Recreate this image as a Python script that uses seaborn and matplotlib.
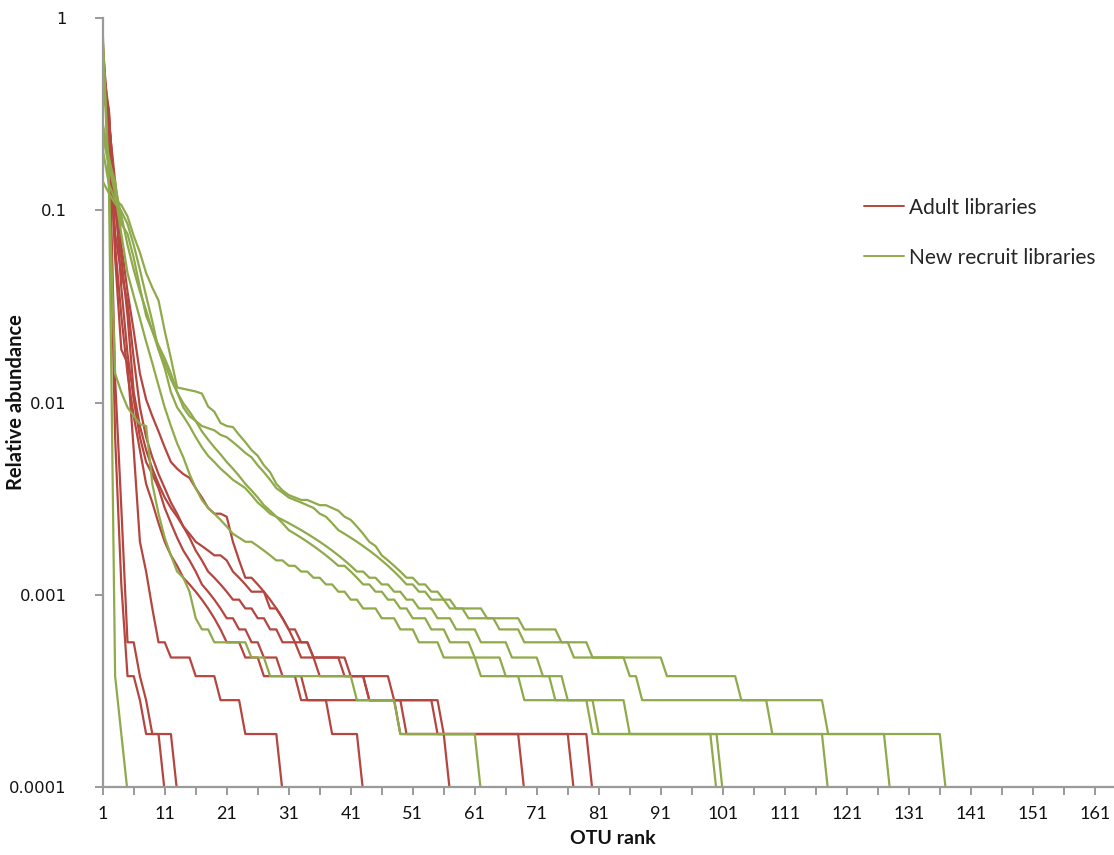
import matplotlib
matplotlib.use("Agg")
import matplotlib.pyplot as plt
from matplotlib.lines import Line2D
import pandas as pd
import seaborn as sns

# Reads per library after rarefaction; relative abundance = count / DEPTH
DEPTH = 10600

# OTU read counts per library, ranked from most to least abundant
adult_a = [8200, 2300, 70, 12, 4, 4, 3, 2, 2, 2, 1]
adult_b = [7400, 3000, 140, 30, 6, 6, 4, 3, 2, 2, 2, 2, 1]
adult_c = [6000, 3500, 600, 200, 170, 60, 20, 14, 9, 6,
           6, 5, 5, 5, 5, 4, 4, 4, 4, 3,
           3, 3, 3, 2, 2, 2, 2, 2, 2, 1]
adult_d = [5200, 3200, 1300, 420, 190, 110, 70, 52, 45, 38,
           30, 25, 21, 18, 16, 14, 12, 11, 10, 9,
           8, 8, 7, 7, 6, 6, 5, 5, 5, 4,
           4, 4, 4, 3, 3, 3, 3, 2, 2, 2,
           2, 2, 1]
adult_e = [4800, 3300, 1100, 600, 300, 120, 80, 60, 48, 40,
           34, 30, 27, 24, 22, 20, 19, 18, 17, 17,
           16, 14, 13, 12, 11, 11, 11, 9, 9, 8,
           7, 7, 6, 6, 5, 5, 5, 5, 5, 5,
           4, 4, 4, 3, 3, 3, 3, 3, 3, 3,
           3, 3, 3, 3, 3, 2, 1]
adult_f = [4500, 3000, 1500, 700, 400, 250, 150, 110, 90, 75,
           62, 52, 48, 45, 43, 38, 34, 30, 28, 28,
           27, 20, 16, 13, 13, 12, 11, 10, 9, 8,
           7, 6, 6, 6, 5, 4, 4, 4, 4, 4,
           4, 4, 4, 3, 3, 3, 3, 3, 2, 2,
           2, 2, 2, 2, 2, 2, 2, 2, 2, 2,
           2, 2, 2, 2, 2, 2, 2, 2, 1]
adult_g = [5000, 3500, 800, 500, 350, 180, 100, 70, 55, 45,
           38, 32, 28, 24, 21, 18, 16, 14, 13, 12,
           11, 10, 10, 9, 9, 8, 8, 7, 7, 6,
           6, 6, 5, 5, 5, 5, 5, 5, 5, 4,
           4, 4, 4, 4, 4, 4, 4, 3, 3, 3,
           3, 3, 3, 3, 2, 2, 2, 2, 2, 2,
           2, 2, 2, 2, 2, 2, 2, 2, 2, 2,
           2, 2, 2, 2, 2, 2, 1]
adult_h = [6500, 2500, 700, 300, 150, 90, 60, 40, 32, 25,
           20, 17, 15, 13, 12, 11, 10, 9, 8, 7,
           6, 6, 6, 5, 5, 5, 4, 4, 4, 4,
           4, 4, 3, 3, 3, 3, 3, 3, 3, 3,
           3, 3, 3, 3, 3, 3, 3, 3, 3, 2,
           2, 2, 2, 2, 2, 2, 2, 2, 2, 2,
           2, 2, 2, 2, 2, 2, 2, 2, 2, 2,
           2, 2, 2, 2, 2, 2, 2, 2, 2, 1]

recruit_a = [9100, 1490, 4, 2, 1]
recruit_b = [8000, 1400, 150, 120, 100, 90, 82, 80, 40, 28,
             21, 17, 14, 13, 11, 8, 7, 7, 6, 6,
             6, 6, 6, 6, 5, 5, 5, 4, 4, 4,
             4, 4, 4, 4, 4, 4, 4, 4, 4, 4,
             4, 3, 3, 3, 3, 3, 3, 3, 2, 2,
             2, 2, 2, 2, 2, 2, 2, 2, 2, 2,
             2, 1]
recruit_c = [2200, 1450, 1200, 1130, 985, 780, 640, 500, 420, 360,
             250, 180, 127, 125, 123, 121, 118, 101, 95, 83,
             80, 79, 72, 66, 60, 56, 50, 46, 40, 37,
             35, 34, 33, 33, 32, 31, 31, 30, 29, 27,
             26, 24, 22, 20, 19, 17, 16, 15, 14, 13,
             13, 12, 12, 11, 11, 10, 10, 9, 9, 9,
             9, 9, 8, 8, 8, 8, 8, 8, 7, 7,
             7, 7, 7, 7, 6, 6, 6, 6, 6, 5,
             5, 5, 5, 5, 5, 4, 4, 3, 3, 3,
             3, 3, 3, 3, 3, 3, 3, 3, 3, 3,
             3, 3, 3, 3, 3, 3, 3, 3, 3, 3,
             3, 3, 3, 3, 3, 3, 3, 2, 2, 2,
             2, 2, 2, 2, 2, 2, 2, 2, 2, 2,
             2, 2, 2, 2, 2, 2, 1]
recruit_d = [2900, 1900, 1500, 900, 800, 600, 420, 300, 250, 210,
             180, 150, 120, 100, 90, 85, 80, 78, 76, 72,
             70, 66, 62, 58, 55, 50, 46, 42, 38, 36,
             34, 33, 32, 31, 30, 28, 27, 25, 23, 22,
             21, 20, 19, 18, 17, 16, 15, 14, 13, 12,
             12, 11, 11, 10, 10, 10, 9, 9, 9, 8,
             8, 8, 8, 8, 7, 7, 7, 7, 6, 6,
             6, 6, 6, 6, 6, 6, 5, 5, 5, 5,
             5, 5, 5, 5, 5, 5, 5, 5, 5, 5,
             5, 4, 4, 4, 4, 4, 4, 4, 4, 4,
             4, 4, 4, 3, 3, 3, 3, 3, 2, 2,
             2, 2, 2, 2, 2, 2, 2, 2, 2, 2,
             2, 2, 2, 2, 2, 2, 2, 1]
recruit_e = [1500, 1300, 1150, 1050, 900, 700, 520, 380, 280, 200,
             160, 120, 100, 90, 80, 70, 62, 56, 52, 48,
             45, 42, 40, 38, 35, 32, 30, 28, 27, 26,
             25, 24, 23, 22, 21, 20, 19, 18, 17, 16,
             15, 14, 14, 13, 13, 12, 12, 11, 11, 10,
             10, 9, 9, 9, 8, 8, 8, 7, 7, 7,
             7, 6, 6, 6, 6, 6, 5, 5, 5, 5,
             5, 4, 4, 4, 4, 3, 3, 3, 3, 3,
             3, 3, 3, 3, 3, 2, 2, 2, 2, 2,
             2, 2, 2, 2, 2, 2, 2, 2, 2, 2,
             2, 2, 2, 2, 2, 2, 2, 2, 2, 2,
             2, 2, 2, 2, 2, 2, 2, 1]
recruit_f = [3000, 2000, 1400, 1000, 700, 520, 400, 320, 250, 200,
             170, 140, 120, 105, 95, 85, 75, 68, 62, 57,
             52, 48, 44, 40, 37, 34, 31, 29, 27, 25,
             23, 22, 21, 20, 19, 18, 17, 16, 15, 15,
             14, 13, 12, 12, 11, 11, 10, 10, 9, 9,
             8, 8, 8, 7, 7, 7, 6, 6, 6, 6,
             5, 5, 5, 5, 5, 4, 4, 4, 4, 4,
             4, 4, 4, 3, 3, 3, 3, 3, 3, 2,
             2, 2, 2, 2, 2, 2, 2, 2, 2, 2,
             2, 2, 2, 2, 2, 2, 2, 2, 2, 2,
             1]
recruit_g = [2600, 1800, 1300, 800, 500, 380, 290, 220, 170, 130,
             100, 80, 65, 55, 45, 38, 33, 30, 28, 26,
             24, 22, 21, 20, 20, 19, 18, 17, 16, 16,
             15, 15, 14, 14, 13, 13, 12, 12, 11, 11,
             10, 10, 9, 9, 9, 8, 8, 8, 7, 7,
             7, 6, 6, 6, 6, 5, 5, 5, 5, 5,
             5, 4, 4, 4, 4, 4, 4, 4, 3, 3,
             3, 3, 3, 3, 3, 3, 3, 3, 3, 3,
             2, 2, 2, 2, 2, 2, 2, 2, 2, 2,
             2, 2, 2, 2, 2, 2, 2, 2, 2, 1]

ADULT = "Adult libraries"
RECRUIT = "New recruit libraries"
groups = {
    ADULT: [adult_a, adult_b, adult_c, adult_d, adult_e, adult_f, adult_g, adult_h],
    RECRUIT: [recruit_a, recruit_b, recruit_c, recruit_d, recruit_e, recruit_f, recruit_g],
}
palette = {ADULT: "#B4463F", RECRUIT: "#8FAA4A"}

x_ticks = list(range(1, 162, 10))
y_ticks = [1, 0.1, 0.01, 0.001, 0.0001]
y_tick_labels = ["1", "0.1", "0.01", "0.001", "0.0001"]

rows = []
for group, libs in groups.items():
    for i, counts in enumerate(libs):
        for rank, c in enumerate(counts, start=1):
            rows.append({"group": group, "library": f"{group}-{i}",
                         "rank": rank, "abundance": c / DEPTH})
df = pd.DataFrame(rows)

sns.set_theme(style="white")
plt.rcParams["font.family"] = ["DejaVu Sans"]

fig = plt.figure(figsize=(11.14, 8.55), dpi=100)
ax = fig.add_axes([0.0922, 0.0795, 0.9078, 0.8994])

sns.lineplot(data=df, x="rank", y="abundance", hue="group", units="library",
             estimator=None, sort=False, palette=palette, linewidth=1.6,
             legend=False, ax=ax)

ax.set_yscale("log")
ax.set_ylim(1e-4, 1)
ax.set_xlim(1, 164.1)
ax.set_yticks(y_ticks)
ax.set_yticklabels(y_tick_labels)
ax.yaxis.set_minor_locator(matplotlib.ticker.NullLocator())
ax.set_xticks(x_ticks)
ax.set_xticklabels([str(t) for t in x_ticks])
ax.set_xticks(list(range(6, 165, 10)), minor=True)

axis_grey = "#9A9A9A"
for side in ("top", "right"):
    ax.spines[side].set_visible(False)
for side in ("left", "bottom"):
    ax.spines[side].set_color(axis_grey)
    ax.spines[side].set_linewidth(1.6)
ax.tick_params(axis="both", which="both", direction="out", length=6,
               width=1.4, color=axis_grey, labelcolor="#111111")
ax.tick_params(axis="x", which="both", bottom=True, pad=8)
ax.tick_params(axis="y", which="major", left=True, pad=20, labelsize=11.8)
for lab in ax.get_xticklabels():
    lab.set_fontfamily(["Lato", "DejaVu Sans"])
    lab.set_fontsize(13)

label_font = dict(family=["Lato", "DejaVu Sans"], weight="bold", color="#111111")
ax.set_xlabel("OTU rank", fontsize=14, **label_font)
ax.set_ylabel("Relative abundance", fontsize=14.5, **label_font)
ax.xaxis.label.set_verticalalignment("center")
ax.yaxis.label.set_verticalalignment("center")
ax.xaxis.set_label_coords((613 - 102.7) / 1011.3, (787 - 838) / 769)
ax.yaxis.set_label_coords((16 - 102.7) / 1011.3, 0.5)

handles = [Line2D([], [], color=palette[g], linewidth=1.4) for g in groups]
fig.legend(handles, list(groups), loc="upper left",
           bbox_to_anchor=(0.776, 0.769), frameon=False,
           prop=dict(family=["Lato", "DejaVu Sans"], size=15),
           handlelength=1.9, handletextpad=0.25, labelspacing=1.45,
           borderpad=0, borderaxespad=0)

fig.savefig("out.png", dpi=100, facecolor="white")
